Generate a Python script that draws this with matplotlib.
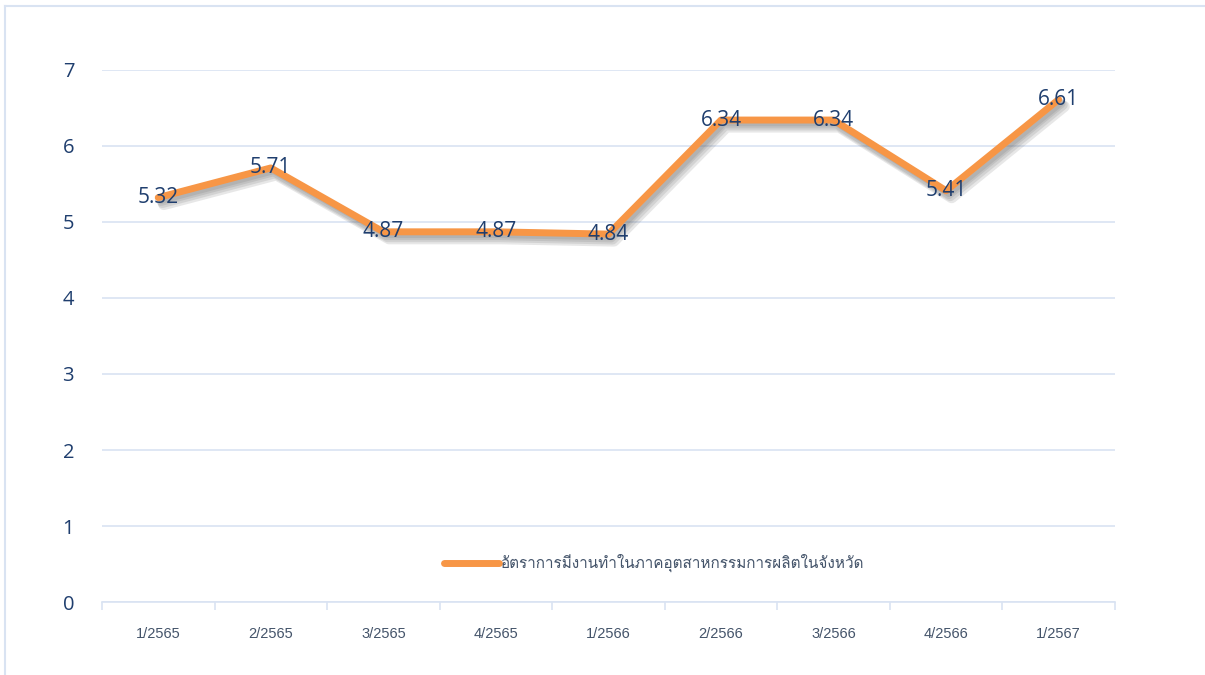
import matplotlib
matplotlib.use("Agg")
import matplotlib.pyplot as plt
import matplotlib.patheffects as pe
from matplotlib import font_manager
from matplotlib.ft2font import FT2Font
from matplotlib.lines import Line2D

quarters = ["1/2565", "2/2565", "3/2565", "4/2565", "1/2566",
            "2/2566", "3/2566", "4/2566", "1/2567"]
rate = [5.32, 5.71, 4.87, 4.87, 4.84, 6.34, 6.34, 5.41, 6.61]
series_name = "อัตราการมีงานทำในภาคอุตสาหกรรมการผลิตในจังหวัด"
yticks = [0, 1, 2, 3, 4, 5, 6, 7]


def find_thai_font():
    # look for any installed font that can draw Thai
    for f in font_manager.fontManager.ttflist:
        try:
            ft = FT2Font(f.fname)
            if ft.get_char_index(ord("ก")) and ft.get_char_index(ord("ม")):
                return f.name
        except Exception:
            continue
    return None


thai = find_thai_font()
thai_family = [thai, "DejaVu Sans"] if thai else ["DejaVu Sans"]

navy = "#1F3E6E"
grid_col = "#D9E3F2"
orange = "#F79646"

fig = plt.figure(figsize=(12.05, 6.75), dpi=100)
ax = fig.add_axes([0.0846, 0.108, 0.8407, 0.7885])

# soft shadow: a few stacked offset copies with low alpha
shadow = []
for dx, dy, lw in [(4, -5, 8), (3, -4, 7), (2, -3, 6), (2, -2, 5)]:
    shadow.append(pe.SimpleLineShadow(offset=(dx, dy), shadow_color="#606060",
                                      alpha=0.15, linewidth=lw))

x = list(range(len(quarters)))
ax.plot(x, rate, color=orange, lw=5, solid_capstyle="round", solid_joinstyle="round",
        path_effects=shadow + [pe.Normal()])

for xi, v in zip(x, rate):
    ax.text(xi, v, f"{v:.2f}", ha="center", va="center", fontsize=15,
            color=navy, family="Open Sans")

ax.set_xlim(-0.5, len(quarters) - 0.5)
ax.set_ylim(0, 7)
ax.set_yticks(yticks)
ax.set_yticklabels([str(t) for t in yticks], fontsize=14.5, color=navy, family="Open Sans")
ax.tick_params(axis="y", length=0, pad=20)

ax.set_xticks(x)
ax.set_xticklabels(quarters, fontsize=10.5, color="#44546A", family="Liberation Sans")
ax.tick_params(axis="x", length=0, pad=18)
ax.set_xticks([i - 0.5 for i in range(len(quarters) + 1)], minor=True)
ax.tick_params(axis="x", which="minor", length=6, width=1.2, color=grid_col, direction="out")

ax.grid(axis="y", color=grid_col, lw=1.2)
ax.set_axisbelow(True)
for s in ["top", "right", "left"]:
    ax.spines[s].set_visible(False)
ax.spines["bottom"].set_color(grid_col)
ax.spines["bottom"].set_linewidth(1.2)

handle = Line2D([], [], color=orange, lw=5, solid_capstyle="round")
leg = ax.legend([handle], [series_name], loc="center", bbox_to_anchor=(0.545, 0.073),
                frameon=False, handlelength=3.6, handletextpad=0.15,
                prop={"family": thai_family, "size": 11})
for t in leg.get_texts():
    t.set_color("#44546A")

# outer frame: top and left edges only
fig.add_artist(Line2D([0.004, 1.0], [0.991, 0.991], color=grid_col, lw=1.5,
                      transform=fig.transFigure))
fig.add_artist(Line2D([0.004, 0.004], [0.0, 0.991], color=grid_col, lw=1.5,
                      transform=fig.transFigure))

fig.savefig("out.png", dpi=100, facecolor="white")
